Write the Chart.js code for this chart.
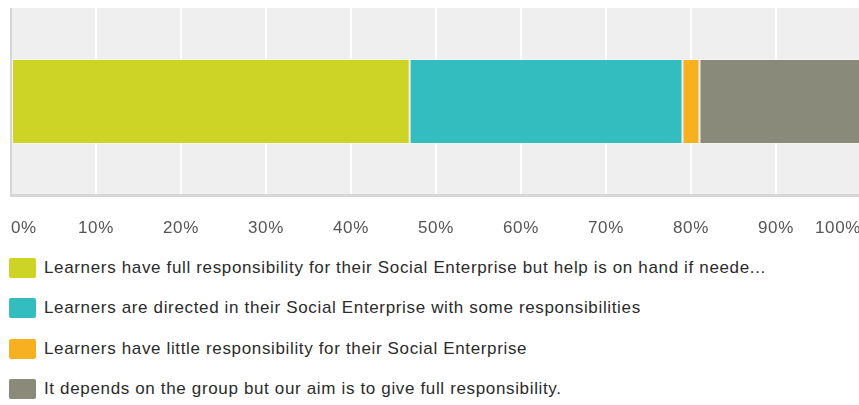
<!DOCTYPE html>
<html>
<head>
<meta charset="utf-8">
<script src="https://cdn.jsdelivr.net/npm/chart.js@4"></script>
<style>
  html, body { margin: 0; padding: 0; background: #fff; overflow: hidden; width: 859px; height: 405px; }
  #wrap { position: absolute; left: 0; top: 0; width: 862px; height: 245px; }
  #legend { position: absolute; left: 9px; top: 258px; font-family: "Liberation Sans", Arial, sans-serif; font-size: 17px; letter-spacing: 0.65px; color: #2b2b2b; }
  .item { display: flex; align-items: center; height: 20px; margin-bottom: 20.3px; white-space: nowrap; }
  .swatch { width: 27px; height: 20px; border-radius: 2px; margin-right: 8px; flex: none; }
</style>
</head>
<body>
<div id="wrap"><canvas id="chart"></canvas></div>
<div id="legend"></div>
<script>
// Answer options and share of respondents (%)
const answers = [
  "Learners have full responsibility for their Social Enterprise but help is on hand if neede...",
  "Learners are directed in their Social Enterprise with some responsibilities",
  "Learners have little responsibility for their Social Enterprise",
  "It depends on the group but our aim is to give full responsibility."
];
const shares = [46.9, 32.1, 2.0, 19.0];
const colors = ["#cdd426", "#33bdbf", "#f7b01f", "#898a79"];
const tickValues = [0, 10, 20, 30, 40, 50, 60, 70, 80, 90, 100];

const plotBackground = {
  id: 'plotBackground',
  beforeDraw(chart) {
    const { ctx, chartArea: a } = chart;
    ctx.letterSpacing = '0.65px';
    ctx.save();
    ctx.fillStyle = '#efefef';
    ctx.fillRect(a.left, a.top, a.right - a.left, a.bottom - a.top);
    ctx.restore();
  }
};

const datasets = answers.map((label, i) => ({
  label,
  data: [shares[i]],
  backgroundColor: colors[i],
  borderColor: 'rgba(255,255,255,0.35)',
  borderWidth: 1,
  borderSkipped: false,
  barPercentage: 0.455,
  categoryPercentage: 1
}));

new Chart(document.getElementById('chart'), {
  type: 'bar',
  data: { labels: [''], datasets },
  options: {
    indexAxis: 'y',
    responsive: true,
    maintainAspectRatio: false,
    animation: false,
    layout: { padding: { left: 11, top: 8, right: 1, bottom: 5 } },
    plugins: { legend: { display: false }, tooltip: { enabled: false } },
    scales: {
      x: {
        stacked: true,
        min: 0,
        max: 100,
        afterBuildTicks(scale) { scale.ticks = tickValues.map(v => ({ value: v })); },
        afterFit(scale) {
          // labels sit inside the plot width, so no side padding is needed
          scale.paddingLeft = 0;
          scale.paddingRight = 0;
          scale.height = 45;
        },
        grid: {
          color: c => c.index === 0 ? '#d6d6d6' : '#ffffff',
          lineWidth: 2,
          drawTicks: false
        },
        border: { display: true, color: '#d6d6d6', width: 3 },
        ticks: {
          align: 'inner',
          padding: 23,
          color: '#555',
          font: { family: '"Liberation Sans", Arial, sans-serif', size: 17 },
          callback: v => v + '%'
        }
      },
      y: {
        stacked: true,
        display: false
      }
    }
  },
  plugins: [plotBackground]
});

// Legend rows, one per answer
const legend = document.getElementById('legend');
answers.forEach((label, i) => {
  const row = document.createElement('div');
  row.className = 'item';
  const sw = document.createElement('span');
  sw.className = 'swatch';
  sw.style.background = colors[i];
  const tx = document.createElement('span');
  tx.textContent = label;
  row.appendChild(sw);
  row.appendChild(tx);
  legend.appendChild(row);
});
</script>
</body>
</html>
